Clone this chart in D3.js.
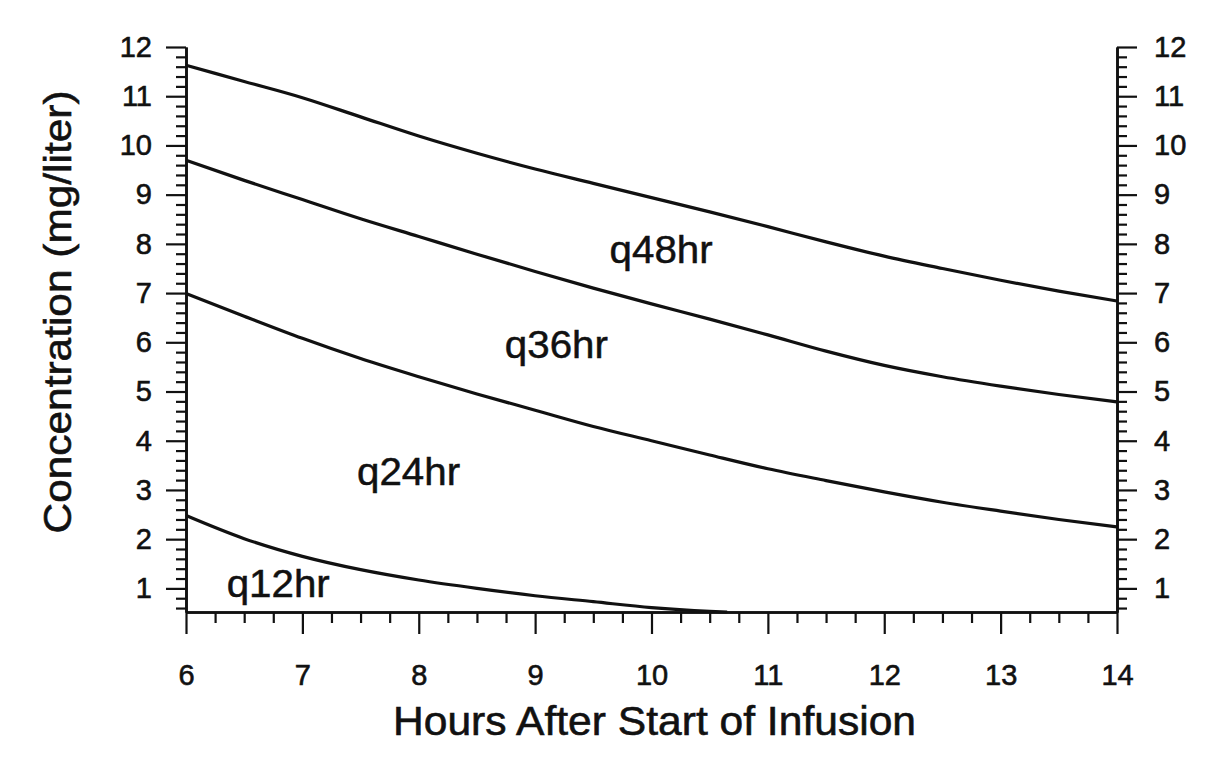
<!DOCTYPE html>
<html>
<head>
<meta charset="utf-8">
<script src="https://cdn.jsdelivr.net/npm/d3@7"></script>
<style>
  html, body { margin: 0; padding: 0; background: #fff; }
  svg { display: block; }
  text { font-family: "Liberation Sans", Arial, Helvetica, sans-serif; fill: #111; }
</style>
</head>
<body>
<svg id="chart" width="1227" height="767"></svg>
<script>
// ---- data ----
const hours = [6, 6.5, 7, 7.5, 8, 8.5, 9, 9.5, 10, 10.5, 11, 11.5, 12, 12.5, 13, 13.5, 14];
const q48 = [11.63, 11.30, 10.97, 10.58, 10.19, 9.84, 9.52, 9.23, 8.94, 8.65, 8.35, 8.04, 7.75, 7.50, 7.26, 7.04, 6.84];
const q36 = [9.70, 9.29, 8.90, 8.51, 8.15, 7.79, 7.44, 7.10, 6.78, 6.47, 6.15, 5.82, 5.53, 5.30, 5.11, 4.94, 4.79];
const q24 = [6.99, 6.53, 6.08, 5.67, 5.30, 4.95, 4.62, 4.29, 4.00, 3.71, 3.43, 3.19, 2.96, 2.75, 2.57, 2.40, 2.25];
const q12Hours = [6, 6.5, 7, 7.5, 8, 8.5, 9, 9.5, 10, 10.5, 10.65];
const q12 = [2.48, 2.01, 1.65, 1.38, 1.17, 1.00, 0.85, 0.73, 0.61, 0.535, 0.52];

const seriesNames = ["q48hr", "q36hr", "q24hr", "q12hr"];
const labelHours = [9.64, 8.74, 7.47, 6.35];
const labelValues = [7.61, 5.68, 3.10, 0.82];

const xTickLabels = [6, 7, 8, 9, 10, 11, 12, 13, 14];
const yTickLabels = [1, 2, 3, 4, 5, 6, 7, 8, 9, 10, 11, 12];

const xTitle = "Hours After Start of Infusion";
const yTitle = "Concentration (mg/liter)";

(function () {
// ---- layout ----
const svg = d3.select("#chart");
const mLeft = 186, mRight = 1117, mTop = 47, mBottom = 612;

const x = d3.scaleLinear().domain([6, 14]).range([mLeft, mRight]);
const y = d3.scaleLinear().domain([0.52, 12]).range([mBottom, mTop]);

const xMinor = d3.range(6, 14.001, 0.25).filter(v => Math.abs(v - Math.round(v)) > 1e-6);
const yMinor = d3.range(0.6, 12.001, 0.2).filter(v => Math.abs(v - Math.round(v)) > 1e-6);

function styleAxis(g) {
  g.selectAll("path.domain").attr("stroke", "#111").attr("stroke-width", 2.6);
  g.selectAll(".tick line").attr("stroke", "#111").attr("stroke-width", 2.2);
  g.selectAll(".tick text").attr("font-size", 29).attr("fill", "#111")
    .attr("stroke", "#111").attr("stroke-width", 0.6)
    .style("font-family", "'Liberation Sans', Arial, Helvetica, sans-serif");
}

// bottom axis
svg.append("g").attr("transform", `translate(0,${mBottom})`)
  .call(d3.axisBottom(x).tickValues(xMinor).tickSize(11).tickSizeOuter(0).tickFormat(""))
  .call(styleAxis);
svg.append("g").attr("transform", `translate(0,${mBottom})`)
  .call(d3.axisBottom(x).tickValues(xTickLabels).tickSize(22).tickSizeOuter(0).tickPadding(30).tickFormat(d3.format("d")))
  .call(styleAxis);

// left axis
svg.append("g").attr("transform", `translate(${mLeft},0)`)
  .call(d3.axisLeft(y).tickValues(yMinor).tickSize(10).tickSizeOuter(0).tickFormat(""))
  .call(styleAxis);
svg.append("g").attr("transform", `translate(${mLeft},0)`)
  .call(d3.axisLeft(y).tickValues(yTickLabels).tickSize(20).tickSizeOuter(0).tickPadding(14).tickFormat(d3.format("d")))
  .call(styleAxis);

// right axis
svg.append("g").attr("transform", `translate(${mRight},0)`)
  .call(d3.axisRight(y).tickValues(yMinor).tickSize(10).tickSizeOuter(0).tickFormat(""))
  .call(styleAxis);
svg.append("g").attr("transform", `translate(${mRight},0)`)
  .call(d3.axisRight(y).tickValues(yTickLabels).tickSize(20).tickSizeOuter(0).tickPadding(17).tickFormat(d3.format("d")))
  .call(styleAxis);

// curves
const line = d3.line().x(d => x(d[0])).y(d => y(d[1])).curve(d3.curveMonotoneX);
const allSeries = [
  d3.zip(hours, q48),
  d3.zip(hours, q36),
  d3.zip(hours, q24),
  d3.zip(q12Hours, q12)
];
svg.append("g").selectAll("path").data(allSeries).join("path")
  .attr("d", line)
  .attr("fill", "none")
  .attr("stroke", "#111")
  .attr("stroke-width", 3.2)
  .attr("stroke-linejoin", "round");

// curve labels
svg.append("g").selectAll("text").data(seriesNames).join("text")
  .attr("x", (d, i) => x(labelHours[i]))
  .attr("y", (d, i) => y(labelValues[i]))
  .attr("font-size", 38)
  .attr("textLength", 103)
  .attr("lengthAdjust", "spacingAndGlyphs")
  .attr("stroke", "#111").attr("stroke-width", 0.5)
  .text(d => d);

// axis titles
svg.append("text")
  .attr("x", 393).attr("y", 735)
  .attr("text-anchor", "start")
  .attr("font-size", 41)
  .attr("textLength", 523)
  .attr("lengthAdjust", "spacingAndGlyphs")
  .attr("stroke", "#111").attr("stroke-width", 0.6)
  .text(xTitle);

svg.append("text")
  .attr("transform", "translate(71,312) rotate(-90)")
  .attr("text-anchor", "middle")
  .attr("font-size", 39)
  .attr("textLength", 443)
  .attr("lengthAdjust", "spacingAndGlyphs")
  .attr("stroke", "#111").attr("stroke-width", 0.6)
  .text(yTitle);
})();
</script>
</body>
</html>
